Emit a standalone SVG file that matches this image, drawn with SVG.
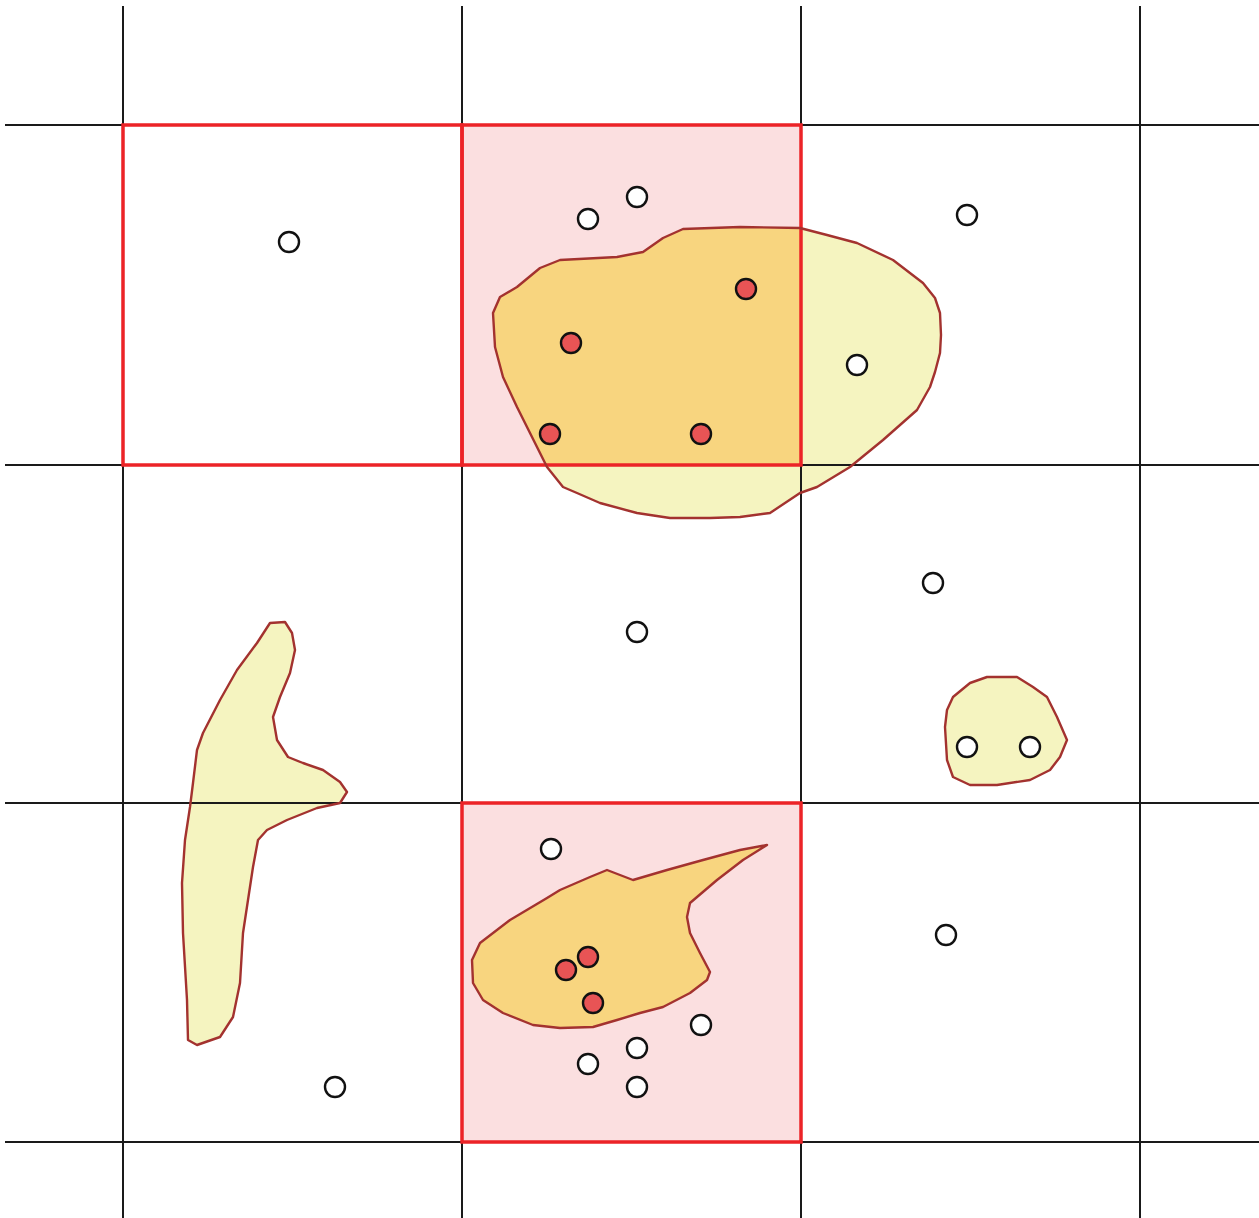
<svg xmlns="http://www.w3.org/2000/svg" width="1259" height="1218" viewBox="0 0 1259 1218">
<style>
.grid{stroke:#1a1a1a;stroke-width:2;fill:none}
.sel{stroke:#ec2327;stroke-width:3.5;fill:none}
.pink{fill:#fbdfe0}
.blobfill{fill:#f5f4c0}
.orange{fill:#f8d57f}
.outline{fill:none;stroke:#a3322f;stroke-width:2.4;stroke-linejoin:round}
.w{fill:#ffffff;stroke:#111;stroke-width:2.4}
.r{fill:#e85455;stroke:#111;stroke-width:2.4}
</style>
<defs>
<clipPath id="cell1"><rect x="462" y="125" width="339" height="340"/></clipPath>
<clipPath id="cell2"><rect x="462" y="803" width="339" height="339"/></clipPath>
<polygon id="bigBlob" points="800,228 827,235 857,243 893,260 923,283 935,298 940,313 941,335 940,353 935,372 930,387 917,410 900,425 883,440 850,467 817,487 800,493 770,513 740,517 710,518 670,518 637,513 600,503 577,493 563,487 547,467 530,433 517,407 503,377 495,347 493,313 500,297 517,287 540,268 560,260 617,257 643,252 663,238 683,229 740,227"/>
<polygon id="botBlob" points="767,845 740,850 703,860 667,870 633,880 607,870 590,877 560,890 547,898 510,920 480,943 472,960 473,983 483,1000 503,1013 533,1025 560,1028 593,1027 617,1020 640,1013 663,1007 690,993 707,980 710,972 700,953 690,933 687,917 690,903 717,880 743,860"/>
<polygon id="leftBlob" points="270,623 285,622 292,633 295,650 290,673 280,697 273,717 277,740 288,757 303,763 323,770 340,782 347,792 340,803 317,808 287,820 267,830 258,840 253,867 248,900 243,933 240,983 233,1017 220,1037 197,1045 188,1040 187,1000 183,933 182,883 185,840 190,807 193,783 197,750 203,733 220,700 237,670 257,643"/>
<polygon id="smallBlob" points="953,697 970,683 987,677 1017,677 1033,687 1047,697 1057,717 1067,740 1060,757 1050,770 1030,780 997,785 970,785 953,777 947,760 945,727 947,710"/>
</defs>
<rect width="1259" height="1218" fill="#ffffff"/>
<g id="cells">
<rect class="pink" x="462" y="125" width="339" height="340"/>
<rect class="pink" x="462" y="803" width="339" height="339"/>
</g>
<g id="blob-top">
<use href="#bigBlob" class="blobfill"/>
<use href="#bigBlob" class="orange" clip-path="url(#cell1)"/>
</g>
<g id="blob-left">
<use href="#leftBlob" class="blobfill"/>
</g>
<g id="blob-small">
<use href="#smallBlob" class="blobfill"/>
</g>
<g id="blob-bottom">
<use href="#botBlob" class="orange" clip-path="url(#cell2)"/>
</g>
<g id="grid">
<line class="grid" x1="123" y1="6" x2="123" y2="1218"/>
<line class="grid" x1="462" y1="6" x2="462" y2="1218"/>
<line class="grid" x1="801" y1="6" x2="801" y2="1218"/>
<line class="grid" x1="1140" y1="6" x2="1140" y2="1218"/>
<line class="grid" x1="5" y1="125" x2="1259" y2="125"/>
<line class="grid" x1="5" y1="465" x2="1259" y2="465"/>
<line class="grid" x1="5" y1="803" x2="1259" y2="803"/>
<line class="grid" x1="5" y1="1142" x2="1259" y2="1142"/>
</g>
<g id="selected-cells">
<rect class="sel" x="123" y="125" width="339" height="340"/>
<rect class="sel" x="462" y="125" width="339" height="340"/>
<rect class="sel" x="462" y="803" width="339" height="339"/>
</g>
<g id="outlines">
<use href="#bigBlob" class="outline"/>
<use href="#botBlob" class="outline"/>
<use href="#leftBlob" class="outline"/>
<use href="#smallBlob" class="outline"/>
</g>
<g id="points">
<circle class="w" cx="289" cy="242" r="10"/>
<circle class="w" cx="588" cy="219" r="10"/>
<circle class="w" cx="637" cy="197" r="10"/>
<circle class="w" cx="967" cy="215" r="10"/>
<circle class="w" cx="857" cy="365" r="10"/>
<circle class="w" cx="933" cy="583" r="10"/>
<circle class="w" cx="637" cy="632" r="10"/>
<circle class="w" cx="967" cy="747" r="10"/>
<circle class="w" cx="1030" cy="747" r="10"/>
<circle class="w" cx="551" cy="849" r="10"/>
<circle class="w" cx="946" cy="935" r="10"/>
<circle class="w" cx="701" cy="1025" r="10"/>
<circle class="w" cx="637" cy="1048" r="10"/>
<circle class="w" cx="588" cy="1064" r="10"/>
<circle class="w" cx="637" cy="1087" r="10"/>
<circle class="w" cx="335" cy="1087" r="10"/>
<circle class="r" cx="746" cy="289" r="10"/>
<circle class="r" cx="571" cy="343" r="10"/>
<circle class="r" cx="550" cy="434" r="10"/>
<circle class="r" cx="701" cy="434" r="10"/>
<circle class="r" cx="588" cy="957" r="10"/>
<circle class="r" cx="566" cy="970" r="10"/>
<circle class="r" cx="593" cy="1003" r="10"/>
</g>
</svg>
